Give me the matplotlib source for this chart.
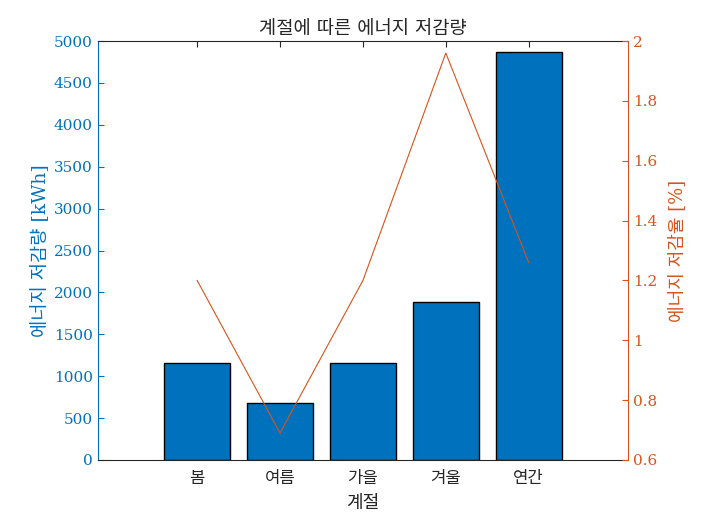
import matplotlib
matplotlib.use("Agg")
import matplotlib.pyplot as plt
import numpy as np

plt.rcParams['font.family'] = ['DejaVu Serif', 'Noto Sans CJK KR']

categories = ['봄', '여름', '가을', '겨울', '연간']
energy_kwh = [1160, 675, 1160, 1880, 4870]
reduction_pct = [1.20, 0.69, 1.20, 1.96, 1.26]

blue = '#0072BD'
orange = '#D95319'
dark = '#262626'

fig = plt.figure(figsize=(7.09, 5.2), dpi=100)
ax = fig.add_axes([0.1378, 0.1154, 0.886 - 0.1378, 0.921 - 0.1154])
x = np.arange(1, len(categories) + 1)
ax.bar(x, energy_kwh, width=0.8, color=blue, edgecolor='black', linewidth=1.0, zorder=2)
ax.set_xlim(-0.2, 6.2)
ax.set_ylim(0, 5000)
ax.set_yticks(np.arange(0, 5001, 500))
ax.set_xticks(x)
ax.set_xticklabels(categories, fontsize=12, color=dark)
ax.tick_params(axis='x', direction='in', top=True, length=4, width=0.8, color=dark, pad=7)
ax.tick_params(axis='y', direction='in', length=4, width=0.8, colors=blue, labelsize=11)
ax.spines['left'].set_color(blue)
ax.spines['right'].set_visible(False)
ax.spines['top'].set_color(dark)
ax.spines['bottom'].set_color(dark)
for s in ax.spines.values():
    s.set_linewidth(0.8)
ax.set_ylabel('에너지 저감량 [kWh]', fontsize=13.5, color=blue, labelpad=3)
ax.set_xlabel('계절', fontsize=13, color=dark, labelpad=5)
ax.set_title('계절에 따른 에너지 저감량', fontsize=13.5, color=dark, pad=5)

ax2 = ax.twinx()
ax2.plot(x, reduction_pct, color=orange, linewidth=0.8, zorder=3)
ax2.set_ylim(0.6, 2.0)
ax2.set_yticks([0.6, 0.8, 1.0, 1.2, 1.4, 1.6, 1.8, 2.0])
ax2.set_yticklabels(['0.6', '0.8', '1', '1.2', '1.4', '1.6', '1.8', '2'])
ax2.tick_params(axis='y', direction='in', length=4, width=0.8, colors=orange, labelsize=11)
ax2.spines['right'].set_color(orange)
ax2.spines['left'].set_visible(False)
ax2.spines['top'].set_visible(False)
ax2.spines['bottom'].set_visible(False)
ax2.spines['right'].set_linewidth(0.8)
ax2.set_ylabel('에너지 저감율 [%]', fontsize=13, color=orange, labelpad=8)

fig.savefig('out.png', dpi=100)
